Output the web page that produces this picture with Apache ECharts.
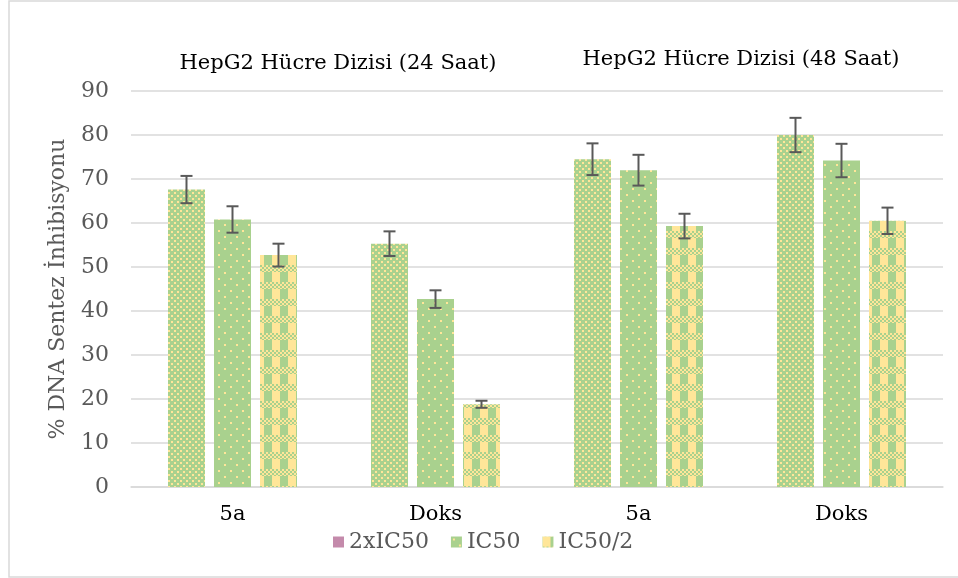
<!DOCTYPE html>
<html>
<head>
<meta charset="utf-8">
<script src="https://cdn.jsdelivr.net/npm/echarts@6/dist/echarts.min.js"></script>
<style>
  html, body { margin: 0; padding: 0; background: #fff; }
  #chart { width: 958px; height: 578px; }
</style>
</head>
<body>
<div id="chart"></div>
<script>
// kategoriler ve seriler
const categories = ['5a', 'Doks', '5a', 'Doks'];
const seriesNames = ['2xIC50', 'IC50', 'IC50/2'];
const val2xIC50 = [67.6, 55.3, 74.5, 80.0];
const valIC50 = [60.8, 42.7, 72.0, 74.2];
const valIC50h = [52.7, 18.8, 59.3, 60.5];
const err2xIC50 = [3.1, 2.8, 3.6, 3.9];
const errIC50 = [3.0, 2.0, 3.5, 3.8];
const errIC50h = [2.6, 0.8, 2.8, 3.0];

const GREEN = '#a9d18e';
const YELLOW = '#ffe699';

function tile(w, h, draw) {
    const c = document.createElement('canvas');
    c.width = w; c.height = h;
    const ctx = c.getContext('2d');
    draw(ctx);
    return { image: c, repeat: 'repeat' };
}
// sık noktalı
const patDense = tile(6, 6, ctx => {
    ctx.fillStyle = GREEN; ctx.fillRect(0, 0, 6, 6);
    ctx.fillStyle = YELLOW;
    ctx.fillRect(0, 0, 2, 2);
    ctx.fillRect(3, 3, 2, 2);
});
// seyrek noktalı
const patSparse = tile(12, 12, ctx => {
    ctx.fillStyle = GREEN; ctx.fillRect(0, 0, 12, 12);
    ctx.fillStyle = YELLOW;
    ctx.fillRect(2, 2, 2, 2);
    ctx.fillRect(8, 8, 2, 2);
});
// kareli
const patCheck = tile(16, 17, ctx => {
    ctx.fillStyle = GREEN; ctx.fillRect(0, 0, 16, 17);
    ctx.fillStyle = YELLOW;
    ctx.fillRect(0, 0, 8, 10);
    for (let y = 10; y < 17; y += 2) {
        for (let x = ((y - 10) / 2) % 2 ? 0 : 2; x < 16; x += 4) {
            ctx.fillRect(x, y, 2, 2);
        }
    }
});

const chart = echarts.init(document.getElementById('chart'));
const serif = 'DejaVu Serif, serif';
const BAR_W = 37, BAR_GAP = 9;

const values = [val2xIC50, valIC50, valIC50h];
const errors = [err2xIC50, errIC50, errIC50h];
const patterns = [patDense, patSparse, patCheck];

const barSeries = seriesNames.map((name, i) => ({
    name: name,
    type: 'bar',
    barWidth: BAR_W,
    barGap: (BAR_GAP / BAR_W * 100) + '%',
    itemStyle: { color: patterns[i] },
    data: values[i]
}));

const errSeries = seriesNames.map((name, i) => ({
    name: name,
    type: 'custom',
    z: 5,
    silent: true,
    renderItem: function (params, api) {
        const x = api.value(0), v = api.value(1), e = api.value(2);
        const off = (i - 1) * (BAR_W + BAR_GAP);
        const top = api.coord([x, v + e]);
        const bot = api.coord([x, v - e]);
        const cx = top[0] + off;
        const hw = 6;
        const style = { stroke: '#595959', lineWidth: 2 };
        return {
            type: 'group',
            children: [
                { type: 'line', shape: { x1: cx, y1: top[1], x2: cx, y2: bot[1] }, style: style },
                { type: 'line', shape: { x1: cx - hw, y1: top[1], x2: cx + hw, y2: top[1] }, style: style },
                { type: 'line', shape: { x1: cx - hw, y1: bot[1], x2: cx + hw, y2: bot[1] }, style: style }
            ]
        };
    },
    data: values[i].map((v, k) => [k, v, errors[i][k]])
}));

const option = {
    animation: false,
    title: [
        { text: 'HepG2 Hücre Dizisi (24 Saat)', left: 333, top: 48, textAlign: 'center',
          textStyle: { fontFamily: serif, fontSize: 21, fontWeight: 'normal', color: '#000' } },
        { text: 'HepG2 Hücre Dizisi (48 Saat)', left: 736, top: 44, textAlign: 'center',
          textStyle: { fontFamily: serif, fontSize: 21, fontWeight: 'normal', color: '#000' } }
    ],
    graphic: [{
        type: 'rect',
        shape: { x: 9, y: 1, width: 960, height: 576 },
        style: { fill: 'none', stroke: '#d9d9d9', lineWidth: 1.5 },
        silent: true
    }],
    legend: {
        left: 328,
        top: 526,
        itemWidth: 11,
        itemHeight: 11,
        itemGap: 22,
        textStyle: { fontFamily: serif, fontSize: 22, color: '#595959' },
        data: [
            { name: '2xIC50', icon: 'rect', itemStyle: { color: '#c48aab' } },
            { name: 'IC50', icon: 'rect' },
            { name: 'IC50/2', icon: 'rect' }
        ]
    },
    grid: { left: 131, right: 15, top: 91, bottom: 91 },
    xAxis: {
        type: 'category',
        data: categories,
        axisLine: { lineStyle: { color: '#d9d9d9', width: 1.5 } },
        axisTick: { show: false },
        axisLabel: { fontFamily: serif, fontSize: 21, color: '#000', margin: 17 }
    },
    yAxis: {
        type: 'value',
        min: 0,
        max: 90,
        interval: 10,
        name: '% DNA Sentez İnhibisyonu',
        nameLocation: 'middle',
        nameGap: 62,
        nameTextStyle: { fontFamily: serif, fontSize: 22, color: '#595959' },
        axisLine: { show: false },
        axisTick: { show: false },
        axisLabel: { fontFamily: serif, fontSize: 22, color: '#595959', margin: 22 },
        splitLine: { lineStyle: { color: '#d9d9d9', width: 1.5 } }
    },
    series: barSeries.concat(errSeries)
};
chart.setOption(option);
</script>
</body>
</html>
